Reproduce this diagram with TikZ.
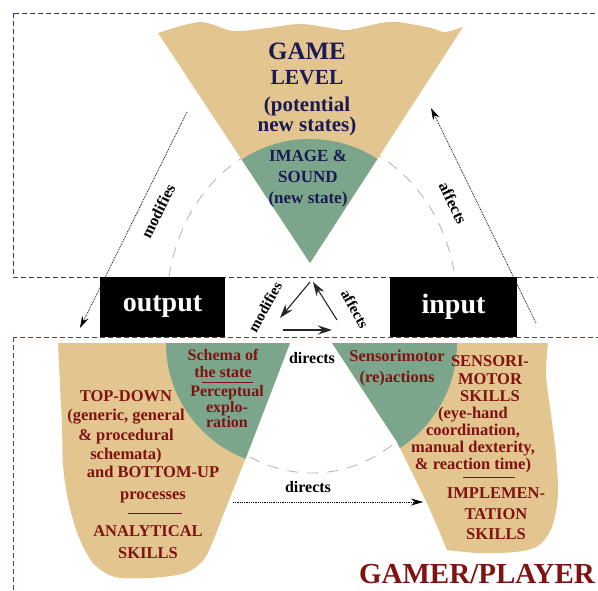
\documentclass[tikz,border=0pt]{standalone}
\usepackage{fontspec}
\setmainfont{Liberation Serif}
\usetikzlibrary{arrows.meta}

\definecolor{tanfill}{RGB}{226,197,143}
\definecolor{greenfill}{RGB}{123,166,140}
\definecolor{navytext}{RGB}{28,26,82}
\definecolor{redtext}{RGB}{128,18,18}
\definecolor{boxnavy}{RGB}{60,60,90}
\definecolor{boxred}{RGB}{140,50,50}

\newcommand{\fsz}[2]{\fontsize{#1}{#2}\selectfont}
% outlines of the three cones
\newcommand{\levelshape}{(310,263) -- plot[smooth] coordinates {(158,33) (200,22) (233,31) (267,28) (300,24) (331,28) (348,30) (381,23) (398,22) (431,28) (445,32) (463,27)} -- cycle}
\newcommand{\leftshape}{(58,343) -- (290,343) -- (247,455) -- plot[smooth] coordinates {(220,523) (205,558) (185,573) (150,578) (115,577) (93,563) (78,535) (68,500) (63,465) (62,425) (60,385) (58,343)} -- cycle}
\newcommand{\rightshape}{(332,343) -- (548,343) -- plot[smooth] coordinates {(548,343) (546,375) (551,415) (556,455) (558,495) (552,527) (538,546) (515,552) (478,553) (447,550)} -- (440,533) -- (427,503) -- (397,442) -- cycle}

\begin{document}
\begin{tikzpicture}[
        x=1pt, y=-1pt,
        topbox/.style={draw=boxnavy, line width=.8pt, dash pattern=on 5pt off 3pt},
        botbox/.style={draw=boxred, line width=.8pt, dash pattern=on 5pt off 3pt},
        ring/.style={draw=gray!55, line width=.9pt, dash pattern=on 11pt off 9pt},
        ioblock/.style={fill=black, text=white, inner sep=0, minimum height=60pt,
                        font=\bfseries\fsz{28}{30}},
        navytxt/.style={text=navytext, align=center, inner sep=0},
        redtxt/.style={text=redtext, align=center, inner sep=0},
        lbl/.style={inner sep=0, font=\bfseries\fsz{16}{16}},
        outer/.style={densely dotted, line width=.8pt, -{Stealth[length=12pt,width=7pt]}},
        inner/.style={draw=black!85, line width=1.1pt, -{Stealth[length=14pt,width=9pt]}},
        rule/.style={draw=redtext, line width=1pt},
      ]
      \clip (0,0) rectangle (598,590);

      % regions
      \draw[topbox] (13,13) rectangle (620,277);
      \draw[botbox] (13,337) rectangle (620,620);
      \draw[ring] (312,305) ellipse [x radius=145, y radius=168];

      % cones
      \fill[tanfill] \levelshape;
      \begin{scope}
        \clip \levelshape;
        \fill[greenfill] (310,263) circle (124);
      \end{scope}
      \fill[tanfill] \leftshape;
      \begin{scope}
        \clip \leftshape;
        \fill[greenfill] (290,343) circle (124);
      \end{scope}
      \fill[tanfill] \rightshape;
      \begin{scope}
        \clip \rightshape;
        \fill[greenfill] (332,343) circle (125);
      \end{scope}

      \node[ioblock, minimum width=125pt] (output) at (162.5,307) {output};
      \node[ioblock, minimum width=127pt] (input) at (453.5,307) {input};

      % game side
      \node[navytxt, font=\bfseries\fsz{21.5}{25}] (level) at (307,64) {{\fsz{25}{25}GAME}\\LEVEL};
      \node[navytxt, font=\bfseries\fsz{21}{19}] (potential) at (307,116) {(potential\\new states)};
      \node[navytxt, font=\bfseries\fsz{17}{21}] (image) at (308,179) {IMAGE \&\\SOUND\\(new state)};

      % player side
      \node[redtxt, font=\bfseries\fsz{16.5}{19.5}] (topdown) at (126,427) {TOP-DOWN\\(generic, general\\\& procedural\\schemata)};
      \node[redtxt, font=\bfseries\fsz{16.5}{22}] (bottomup) at (153,485) {and BOTTOM-UP\\processes};
      \draw[rule] (128,513) -- (182,513);
      \node[redtxt, font=\bfseries\fsz{16.5}{22}] (analytical) at (148,542) {ANALYTICAL\\SKILLS};
      \node[redtxt, font=\bfseries\fsz{16}{17}] (schema) at (223,363) {Schema of\\the state};
      \draw[rule] (202,382) -- (253,382);
      \node[redtxt, font=\bfseries\fsz{16}{15.5}] (percept) at (227,407) {Perceptual\\explo-\\ration};
      \node[redtxt, font=\bfseries\fsz{16.5}{21}] (reactions) at (397,368) {Sensorimotor\\(re)actions};
      \node[redtxt, font=\bfseries\fsz{16.5}{17.5}] (sensori) at (490,379) {SENSORI-\\MOTOR\\SKILLS};
      \node[redtxt, font=\bfseries\fsz{16.5}{17.3}] (eyehand) at (473,440) {(eye-hand\\coordination,\\manual dexterity,\\\& reaction time)};
      \draw[rule] (463,477) -- (515,477);
      \node[redtxt, font=\bfseries\fsz{16.5}{20.5}] (implement) at (496,514) {IMPLEMEN-\\TATION\\SKILLS};
      \node[redtxt, anchor=base, font=\bfseries\fsz{29}{29}] (gamer) at (477,583) {GAMER/PLAYER};

      % outer loop
      \coordinate (modA) at (187,112);
      \coordinate (modB) at (80,328);
      \coordinate (affA) at (536,323);
      \coordinate (affB) at (431,108);
      \draw[outer] (modA) -- (modB);
      \draw[outer] (affA) -- (affB);
      \node[lbl, rotate=63.5] (modlbl) at (158,211) {modifies};
      \node[lbl, rotate=-64] (afflbl) at (453,203) {affects};
      \coordinate (dirA) at (233,502);
      \coordinate (dirB) at (423,502);
      \draw[outer] (dirA) -- (dirB);
      \node[lbl] (dirlow) at (308,487) {directs};
      \node[lbl] (dirup) at (312,358) {directs};

      % inner loop
      \coordinate (modC) at (310,282);
      \coordinate (modD) at (280,318);
      \coordinate (affC) at (337,320);
      \coordinate (affD) at (313,282);
      \coordinate (dirC) at (283,330);
      \coordinate (dirD) at (332,330);
      \draw[inner] (modC) -- (modD);
      \draw[inner] (affC) -- (affD);
      \draw[inner] (dirC) -- (dirD);
      \node[lbl, font=\bfseries\fsz{15}{15}, rotate=61] (modsmall) at (265,307) {modifies};
      \node[lbl, font=\bfseries\fsz{15}{15}, rotate=-61] (affsmall) at (355,309) {affects};

    \end{tikzpicture}
\end{document}
